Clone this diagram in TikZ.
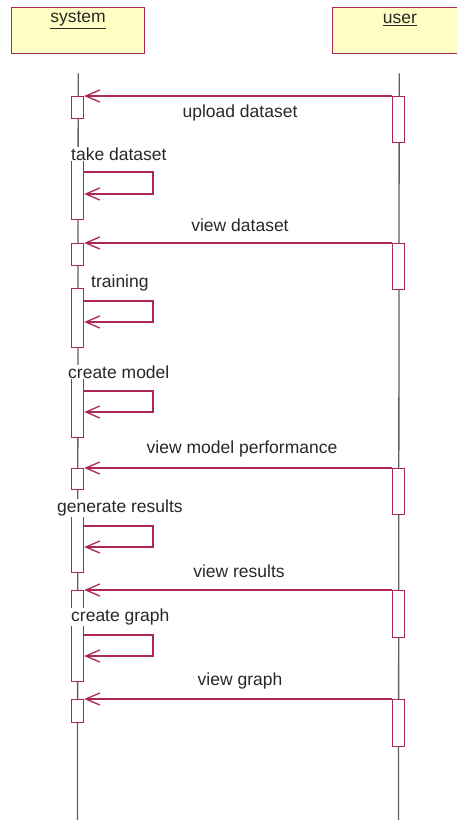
\documentclass[tikz,border=0pt]{standalone}
\usepackage{fontspec}
\setmainfont{Liberation Sans}
\usetikzlibrary{arrows.meta}
\definecolor{umlred}{RGB}{172,40,82}
\definecolor{umlfill}{RGB}{255,255,196}
\definecolor{lifeg}{RGB}{95,95,95}
\definecolor{txt}{RGB}{40,40,40}
\begin{document}
\begin{tikzpicture}[x=1pt,y=-1pt,
 obj/.style={draw=umlred, fill=umlfill, line width=1.4pt, minimum width=133pt, minimum height=46pt, anchor=north west, inner sep=0},
 actbar/.style={draw=umlred, fill=white, line width=1.3pt, minimum width=12pt, inner sep=0, anchor=north},
 msg/.style={umlred, line width=1.3pt, -{Straight Barb[length=14pt,width=12pt,line width=1.3pt]}},
 lbl/.style={text=txt, font=\fontsize{17.5}{20}\selectfont, inner sep=1pt},
 wlbl/.style={lbl, fill=white, anchor=west},
 life/.style={lifeg, line width=1.3pt}]
\useasboundingbox (0,0) rectangle (456,820);
% objects
\node[obj] (sys) at (11,7) {};
\node[obj] (usr) at (332,7) {};
\node[lbl] (systxt) at (78,20) {\underline{system}};
\node[lbl] (usrtxt) at (400,20) {\underline{user}};
% lifelines
\coordinate (sysend) at (77.5,820);
\coordinate (usrend) at (398.5,820);
\draw[life] ([yshift=-19pt]sys.south) -- (sysend);
\draw[life] ([yshift=-19pt]usr.south) -- (usrend);
% activation bars, system
\node[actbar, minimum height=22pt] (s1) at (77.5,96) {};
\node[actbar, minimum height=69pt] (s2) at (77.5,150) {};
\node[actbar, minimum height=22pt] (s3) at (77.5,243) {};
\node[actbar, minimum height=59pt] (s4) at (77.5,288) {};
\node[actbar, minimum height=69pt] (s5) at (77.5,368) {};
\node[actbar, minimum height=21pt] (s6) at (77.5,468) {};
\node[actbar, minimum height=69pt] (s7) at (77.5,503) {};
\node[actbar, minimum height=91pt] (s8) at (77.5,590) {};
\node[actbar, minimum height=23pt] (s9) at (77.5,699) {};
% activation bars, user
\node[actbar, minimum height=46pt] (u1) at (398.5,96) {};
\node[actbar, minimum height=46pt] (u2) at (398.5,243) {};
\node[actbar, minimum height=46pt] (u3) at (398.5,468) {};
\node[actbar, minimum height=47pt] (u4) at (398.5,590) {};
\node[actbar, minimum height=47pt] (u5) at (398.5,699) {};
% messages user -> system
\draw[msg] (u1.north west) -- (s1.north east);
\draw[msg] (u2.north west) -- (s3.north east);
\draw[msg] (u3.north west) -- (s6.north east);
\draw[msg] (u4.north west) -- (s8.north east);
\draw[msg] (u5.north west) -- (s9.north east);
% self messages
\draw[msg] (s2.east |- 0,172) -- (153,172) -- (153,194) -- (s2.east |- 0,194);
\draw[msg] (s4.east |- 0,301) -- (153,301) -- (153,322) -- (s4.east |- 0,322);
\draw[msg] (s5.east |- 0,391) -- (153,391) -- (153,412) -- (s5.east |- 0,412);
\draw[msg] (s7.east |- 0,526) -- (153,526) -- (153,547) -- (s7.east |- 0,547);
\draw[msg] (s8.east |- 0,635) -- (153,635) -- (153,656) -- (s8.east |- 0,656);
% labels
\node[lbl] (l1) at (240,113) {upload dataset};
\node[wlbl] (l2) at (70,154) {take dataset};
\node[lbl] (l3) at (240,225) {view dataset};
\node[wlbl] (l4) at (90,283) {training};
\node[wlbl] (l5) at (67,372) {create model};
\node[lbl] (l6) at (242,449) {view model performance};
\node[wlbl] (l7) at (56,508) {generate results};
\node[lbl] (l8) at (239,571) {view results};
\node[wlbl] (l9) at (70,617) {create graph};
\node[lbl] (l10) at (240,681) {view graph};
\end{tikzpicture}
\end{document}
